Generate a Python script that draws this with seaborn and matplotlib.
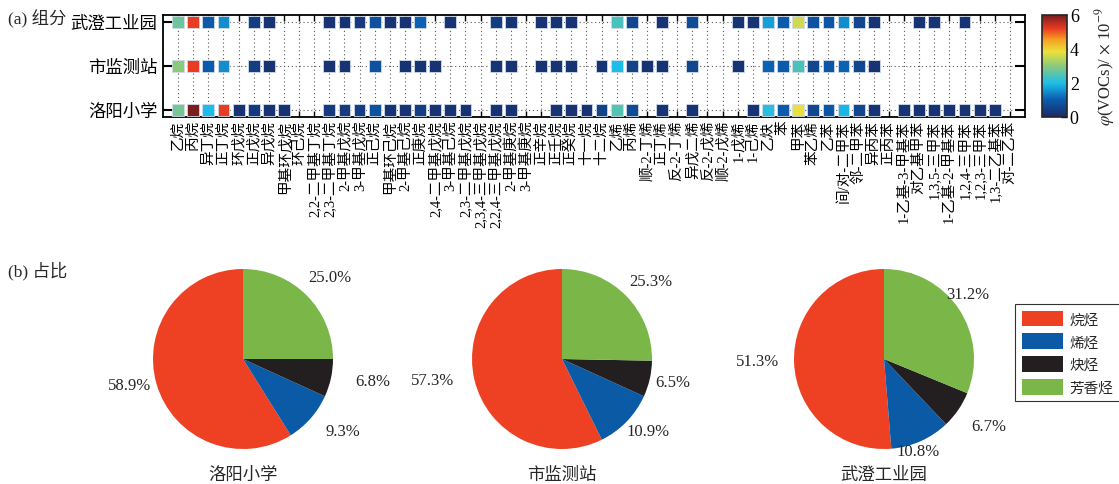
import numpy as np
import pandas as pd
import matplotlib
matplotlib.use("Agg")
import matplotlib.pyplot as plt
import seaborn as sns
from matplotlib.colors import LinearSegmentedColormap, Normalize
from matplotlib.cm import ScalarMappable
from matplotlib.patches import Patch

sns.set_theme(style="white")
plt.rcParams["font.family"] = ["Liberation Serif", "Noto Sans CJK SC"]
plt.rcParams["mathtext.fontset"] = "stix"
plt.rcParams["axes.unicode_minus"] = False

# 56 PAMS species, in plotting order
species = [
    "乙烷", "丙烷", "异丁烷", "正丁烷", "环戊烷", "正戊烷", "异戊烷", "甲基环戊烷",
    "环己烷", "2,2-二甲基丁烷", "2,3-二甲基丁烷", "2-甲基戊烷", "3-甲基戊烷", "正己烷",
    "甲基环己烷", "2-甲基己烷", "正庚烷", "2,4-二甲基戊烷", "3-甲基己烷",
    "2,3-二甲基戊烷", "2,3,4-三甲基戊烷", "2,2,4-三甲基戊烷", "2-甲基庚烷",
    "3-甲基庚烷", "正辛烷", "正壬烷", "正癸烷", "十一烷", "十二烷",
    "乙烯", "丙烯", "顺-2-丁烯", "正丁烯", "反-2-丁烯", "异戊二烯", "反-2-戊烯",
    "顺-2-戊烯", "1-戊烯", "1-己烯", "乙炔",
    "苯", "甲苯", "苯乙烯", "乙苯", "间/对-二甲苯", "邻-二甲苯", "异丙苯", "正丙苯",
    "1-乙基-3-甲基苯", "对乙基甲苯", "1,3,5-三甲苯", "1-乙基-2-甲基苯",
    "1,2,4-三甲苯", "1,2,3-三甲苯", "1,3-二乙基苯", "对-二乙苯",
]

sites = ["洛阳小学", "市监测站", "武澄工业园"]
nan = np.nan

# mixing ratios, 10^-9 (NaN = not detected)
conc_luoyang = [
    2.8, 6.0, 2.0, 5.2, 0.2, 0.35, 0.2, 0.2, nan, nan,
    0.35, 0.35, 0.4, 0.8, 0.2, 0.2, 0.4, 0.2, 0.2, 0.2,
    nan, 0.2, 0.2, nan, nan, 0.2, 0.2, 0.2, 0.5,
    2.5, 0.7, nan, 0.2, nan, 0.2, nan, nan, nan, 0.2, 2.1,
    1.0, 3.8, 0.6, 0.9, 1.9, 0.6, 0.2, nan, 0.2, 0.2,
    0.2, 0.2, 0.2, 0.2, 0.2, nan,
]
conc_shijiance = [
    3.0, 5.2, 1.0, 1.5, nan, 0.4, 0.2, nan, nan, nan,
    0.2, 0.2, nan, 0.8, nan, 0.2, 0.2, 0.2, nan, nan,
    nan, 0.2, 0.2, nan, 0.2, 0.2, 0.2, nan, 0.2,
    2.0, 0.5, 0.2, 0.2, nan, 0.6, nan, nan, 0.2, nan, 1.1,
    1.0, 2.4, 0.6, 0.9, 1.1, 0.6, 0.2, nan, nan, nan,
    nan, nan, nan, nan, nan, nan,
]
conc_wucheng = [
    2.7, 5.2, 1.0, 1.5, nan, 0.4, 0.2, nan, nan, nan,
    0.2, 0.2, 0.35, 0.8, 0.2, 0.2, 1.1, nan, 0.2, nan,
    nan, 0.4, 0.2, nan, 0.2, 0.2, 0.2, nan, nan,
    2.4, 0.6, nan, 0.2, nan, 0.7, nan, nan, 0.2, 0.2, 1.7,
    1.0, 3.6, 0.8, 0.9, 1.5, 0.6, 0.2, nan, nan, 0.2,
    0.2, nan, 0.2, nan, nan, nan,
]

groups = ["烷烃", "烯烃", "炔烃", "芳香烃"]
share_luoyang = [58.9, 9.3, 6.8, 25.0]
share_shijiance = [57.3, 10.9, 6.5, 25.3]
share_wucheng = [51.3, 10.8, 6.7, 31.2]
group_colors = ["#ee4124", "#0b5aa5", "#231f20", "#7ab648"]

# where each percentage sits, in pie-radius units from the centre
pct_offsets = [
    [(-1.26, -0.29), (1.11, -0.80), (1.44, -0.24), (0.97, 0.91)],
    [(-1.44, -0.23), (0.96, -0.80), (1.23, -0.26), (0.99, 0.87)],
    [(-1.40, -0.02), (0.38, -1.02), (1.16, -0.74), (0.93, 0.72)],
]

# jet-like colour scale
cmap = LinearSegmentedColormap.from_list(
    "vocs",
    [(0.00, "#1b2a66"), (0.17, "#0b5cae"), (0.33, "#1cbde9"),
     (0.50, "#8cc97c"), (0.64, "#ece13a"), (0.76, "#f5a023"),
     (0.87, "#e83a22"), (1.00, "#7a1d1f")],
)
norm = Normalize(0, 6)

rows = []
for pos, vals in enumerate([conc_luoyang, conc_shijiance, conc_wucheng], start=1):
    for i, v in enumerate(vals, start=1):
        if not np.isnan(v):
            rows.append({"idx": i, "site": pos, "value": v})
df = pd.DataFrame(rows)

W, H = 1119, 485
fig = plt.figure(figsize=(W / 100, H / 100), dpi=100)

def px_rect(x0, y0, x1, y1):
    return [x0 / W, 1 - y1 / H, (x1 - x0) / W, (y1 - y0) / H]

# ---- (a) species matrix ----
ax = fig.add_axes(px_rect(163, 16, 1025, 118))
ax.set_xlim(0, len(species) + 1)
ax.set_ylim(0.84, 3.16)
ax.set_xticks(range(1, len(species) + 1))
ax.set_xticklabels(species, rotation=90, fontsize=10.5)
ax.set_yticks([1, 2, 3])
ax.set_yticklabels(sites, fontsize=12.5)
ax.grid(True, linestyle=(0, (1, 2.5)), color="0.35", linewidth=0.8, zorder=0)
ax.set_axisbelow(True)
sns.scatterplot(data=df, x="idx", y="site", hue="value", palette=cmap,
                hue_norm=norm, marker="s", s=72, linewidth=0.6,
                edgecolor="#d0dbe8", legend=False, ax=ax, zorder=3)
ax.set_xlabel("")
ax.set_ylabel("")
ax.tick_params(axis="x", direction="in", top=True, bottom=True, length=4,
               width=1, pad=2, colors="black")
ax.tick_params(axis="y", direction="in", left=True, right=True, length=7,
               width=1.5, pad=4, colors="black")
for sp in ax.spines.values():
    sp.set_color("black")
    sp.set_linewidth(1.3)

cax = fig.add_axes(px_rect(1042, 16, 1067, 118))
cb = fig.colorbar(ScalarMappable(norm=norm, cmap=cmap), cax=cax)
cb.set_ticks([0, 2, 4, 6])
cax.tick_params(direction="in", length=4, width=1, labelsize=13, pad=2,
                colors="black")
cb.outline.set_linewidth(1.2)
cb.set_label(r"$\varphi$(VOCs)/ $\times$ 10$^{-9}$", fontsize=12, labelpad=10)

fig.text(8 / W, 1 - 19 / H, "(a) 组分", fontsize=12.5, va="center")
fig.text(8 / W, 1 - 271 / H, "(b) 占比", fontsize=12.5, va="center")

# ---- (b) group shares ----
R = 90
L = 1.5
S = 2 * R * L
for cx, site, share, offs in [(243, "洛阳小学", share_luoyang, pct_offsets[0]),
                              (562, "市监测站", share_shijiance, pct_offsets[1]),
                              (884, "武澄工业园", share_wucheng, pct_offsets[2])]:
    pax = fig.add_axes(px_rect(cx - S / 2, 360 - S / 2, cx + S / 2, 360 + S / 2))
    pax.pie(share, colors=group_colors, startangle=90, counterclock=True,
            radius=1, wedgeprops=dict(linewidth=0))
    for v, (ox, oy) in zip(share, offs):
        pax.text(ox, oy, f"{v:.1f}%", ha="center", va="center", fontsize=12)
    pax.set_xlim(-L, L)
    pax.set_ylim(-L, L)
    pax.set_aspect("equal")
    pax.axis("off")
    pax.text(0, -1.29, site, ha="center", va="center", fontsize=12.5,
             clip_on=False)

handles = [Patch(facecolor=c, edgecolor="none", label=g)
           for g, c in zip(groups, group_colors)]
leg = fig.legend(handles=handles, loc="upper left",
                 bbox_to_anchor=(1015 / W, 1 - 305 / H), frameon=True,
                 fancybox=False, edgecolor="black", fontsize=10.5,
                 handlelength=2.85, handleheight=1.25, labelspacing=0.5,
                 borderpad=0.45, handletextpad=0.45, borderaxespad=0)
leg.get_frame().set_linewidth(0.8)

fig.savefig("out.png", dpi=100)
